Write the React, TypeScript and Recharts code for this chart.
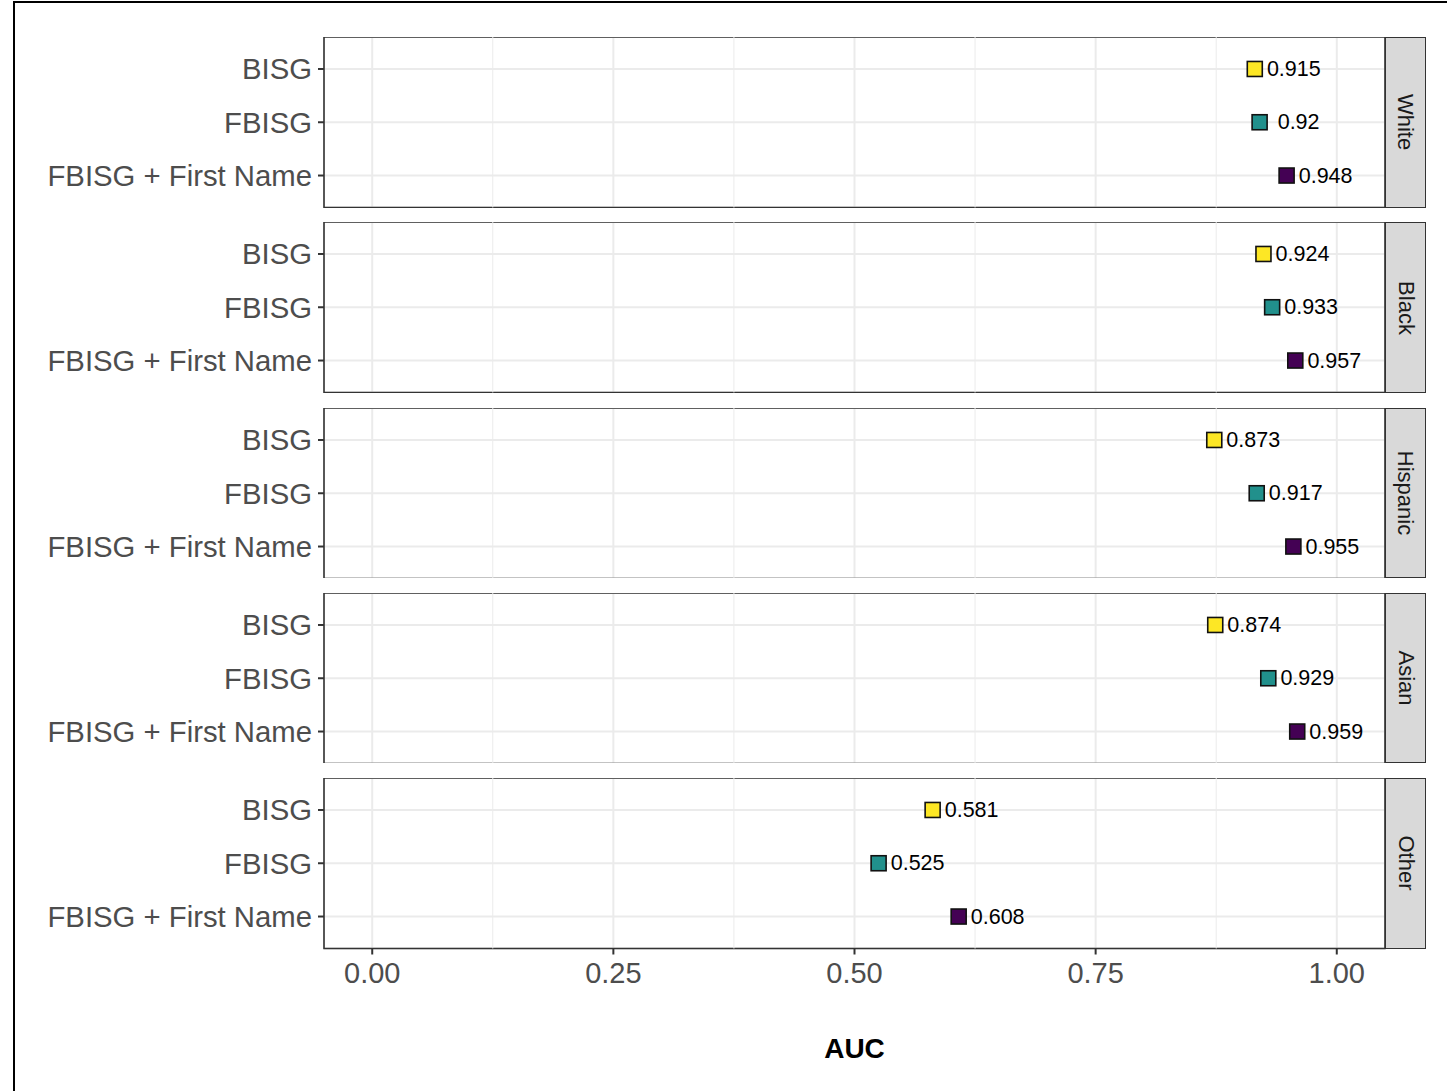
import React from 'react';
import { ScatterChart, Scatter, XAxis, YAxis, CartesianGrid, ReferenceLine, ReferenceArea } from 'recharts';

const races = ['White', 'Black', 'Hispanic', 'Asian', 'Other'];
const methods = ['BISG', 'FBISG', 'FBISG + First Name'];
const bisg = [0.915, 0.924, 0.873, 0.874, 0.581];
const fbisg = [0.92, 0.933, 0.917, 0.929, 0.525];
const fbisgFirst = [0.948, 0.957, 0.955, 0.959, 0.608];
const methodColors = ['#FDE725', '#21908C', '#440154'];
const xTicks = [0, 0.25, 0.5, 0.75, 1];
const xMinor = [0.125, 0.375, 0.625, 0.875];
const xTickLabels = ['0.00', '0.25', '0.50', '0.75', '1.00'];

const FONT = '"Liberation Sans", Arial, Helvetica, sans-serif';
const PANEL_TOP = 37;
const PANEL_H = 170.5;
const PANEL_GAP = 14.8;
const PLOT_LEFT = 324;
const PLOT_RIGHT = 1385;
const STRIP_W = 41;

const MarkerShape = (props: any) => {
  const { cx, cy, fill, payload } = props;
  if (cx == null || cy == null) return null;
  const s = 15;
  return (
    <g>
      <rect x={cx - s / 2} y={cy - s / 2} width={s} height={s} fill={fill} stroke="#111" strokeWidth={1.6} />
      <text x={cx + 39} y={cy} textAnchor="middle" dominantBaseline="central" fontSize={21.5} fontFamily={FONT} fill="#000">
        {String(payload.x)}
      </text>
    </g>
  );
};

function Panel({ idx, last }: { idx: number; last: boolean }) {
  const seriesVals = [bisg[idx], fbisg[idx], fbisgFirst[idx]];
  const xAxisH = last ? 60 : 0;
  return (
    <ScatterChart
      width={1447}
      height={PANEL_H + xAxisH}
      margin={{ top: 0, right: 1447 - PLOT_RIGHT, bottom: 0, left: 0 }}
      style={{ fontFamily: FONT }}
    >
      <CartesianGrid stroke="#EBEBEB" strokeWidth={2} />
      {xMinor.map((v) => (
        <ReferenceLine key={v} x={v} stroke="#EBEBEB" strokeWidth={1} />
      ))}
      <XAxis
        type="number"
        dataKey="x"
        domain={[-0.05, 1.05]}
        ticks={xTicks}
        allowDataOverflow
        hide={!last}
        height={xAxisH}
        axisLine={false}
        tickLine={{ stroke: '#333', strokeWidth: 2 }}
        tickSize={6}
        tickMargin={8}
        tick={{ fill: '#4D4D4D', fontSize: 29, fontFamily: FONT }}
        tickFormatter={(v: number) => xTickLabels[xTicks.indexOf(v)] ?? String(v)}
      />
      <YAxis
        type="number"
        dataKey="y"
        domain={[0.4, 3.6]}
        ticks={[1, 2, 3]}
        reversed
        allowDataOverflow
        width={PLOT_LEFT}
        axisLine={false}
        tickLine={{ stroke: '#333', strokeWidth: 2 }}
        tickSize={6}
        tickMargin={6}
        tick={{ fill: '#4D4D4D', fontSize: 29.3, fontFamily: FONT }}
        tickFormatter={(v: number) => methods[v - 1] ?? ''}
      />
      {methods.map((m, j) => (
        <Scatter
          key={m}
          name={m}
          data={[{ x: seriesVals[j], y: j + 1 }]}
          fill={methodColors[j]}
          shape={MarkerShape}
          isAnimationActive={false}
        />
      ))}
      <ReferenceArea x1={-0.05} x2={1.05} y1={0.4} y2={3.6} fill="none" stroke="#333" strokeWidth={1.6} ifOverflow="visible" />
    </ScatterChart>
  );
}

export default function App() {
  return (
    <div style={{ position: 'absolute', left: 0, top: 0, width: 1447, height: 1091, background: '#fff', overflow: 'hidden', fontFamily: FONT }}>
      <div style={{ position: 'absolute', left: 13, top: 1, width: 1600, height: 1300, border: '2.5px solid #000', boxSizing: 'border-box' }} />
      {races.map((r, i) => {
        const top = PANEL_TOP + i * (PANEL_H + PANEL_GAP);
        return (
          <React.Fragment key={r}>
            <div style={{ position: 'absolute', left: 0, top }}>
              <Panel idx={i} last={i === races.length - 1} />
            </div>
            <div
              style={{
                position: 'absolute',
                left: PLOT_RIGHT,
                top,
                width: STRIP_W,
                height: PANEL_H,
                background: '#D9D9D9',
                border: '1.6px solid #333',
                boxSizing: 'border-box',
                display: 'flex',
                alignItems: 'center',
                justifyContent: 'center',
              }}
            >
              <div style={{ transform: 'rotate(90deg)', fontSize: 22, color: '#1A1A1A', whiteSpace: 'nowrap' }}>{r}</div>
            </div>
          </React.Fragment>
        );
      })}
      <div style={{ position: 'absolute', left: PLOT_LEFT, width: PLOT_RIGHT - PLOT_LEFT, top: 1033, textAlign: 'center', fontSize: 28, fontWeight: 'bold', color: '#000' }}>
        AUC
      </div>
    </div>
  );
}
